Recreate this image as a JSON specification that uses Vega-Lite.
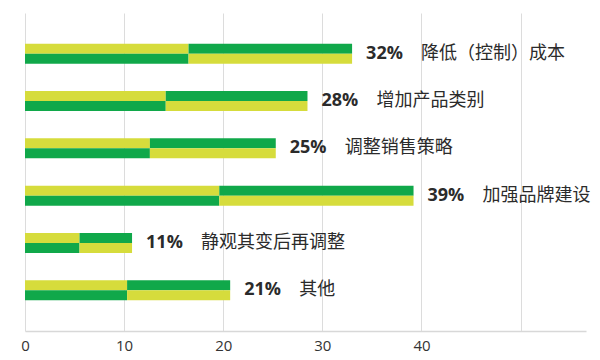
{
  "$schema": "https://vega.github.io/schema/vega-lite/v6.json",
  "width": 561,
  "height": 318,
  "autosize": {"type": "none"},
  "padding": {"left": 25, "top": 13, "right": 14, "bottom": 29},
  "background": "white",
  "config": {"view": {"stroke": null}},
  "datasets": {
    "segments": [
      {"cat": "降低（控制）成本", "half": "top", "start": 0, "end": 16.5, "tone": "yellow"},
      {"cat": "降低（控制）成本", "half": "top", "start": 16.5, "end": 33.0, "tone": "green"},
      {"cat": "降低（控制）成本", "half": "bottom", "start": 0, "end": 16.5, "tone": "green"},
      {"cat": "降低（控制）成本", "half": "bottom", "start": 16.5, "end": 33.0, "tone": "yellow"},
      {"cat": "增加产品类别", "half": "top", "start": 0, "end": 14.2, "tone": "yellow"},
      {"cat": "增加产品类别", "half": "top", "start": 14.2, "end": 28.5, "tone": "green"},
      {"cat": "增加产品类别", "half": "bottom", "start": 0, "end": 14.2, "tone": "green"},
      {"cat": "增加产品类别", "half": "bottom", "start": 14.2, "end": 28.5, "tone": "yellow"},
      {"cat": "调整销售策略", "half": "top", "start": 0, "end": 12.6, "tone": "yellow"},
      {"cat": "调整销售策略", "half": "top", "start": 12.6, "end": 25.3, "tone": "green"},
      {"cat": "调整销售策略", "half": "bottom", "start": 0, "end": 12.6, "tone": "green"},
      {"cat": "调整销售策略", "half": "bottom", "start": 12.6, "end": 25.3, "tone": "yellow"},
      {"cat": "加强品牌建设", "half": "top", "start": 0, "end": 19.6, "tone": "yellow"},
      {"cat": "加强品牌建设", "half": "top", "start": 19.6, "end": 39.2, "tone": "green"},
      {"cat": "加强品牌建设", "half": "bottom", "start": 0, "end": 19.6, "tone": "green"},
      {"cat": "加强品牌建设", "half": "bottom", "start": 19.6, "end": 39.2, "tone": "yellow"},
      {"cat": "静观其变后再调整", "half": "top", "start": 0, "end": 5.5, "tone": "yellow"},
      {"cat": "静观其变后再调整", "half": "top", "start": 5.5, "end": 10.8, "tone": "green"},
      {"cat": "静观其变后再调整", "half": "bottom", "start": 0, "end": 5.5, "tone": "green"},
      {"cat": "静观其变后再调整", "half": "bottom", "start": 5.5, "end": 10.8, "tone": "yellow"},
      {"cat": "其他", "half": "top", "start": 0, "end": 10.3, "tone": "yellow"},
      {"cat": "其他", "half": "top", "start": 10.3, "end": 20.7, "tone": "green"},
      {"cat": "其他", "half": "bottom", "start": 0, "end": 10.3, "tone": "green"},
      {"cat": "其他", "half": "bottom", "start": 10.3, "end": 20.7, "tone": "yellow"}
    ],
    "labels": [
      {"cat": "降低（控制）成本", "total": 33.0, "pct": "32%"},
      {"cat": "增加产品类别", "total": 28.5, "pct": "28%"},
      {"cat": "调整销售策略", "total": 25.3, "pct": "25%"},
      {"cat": "加强品牌建设", "total": 39.2, "pct": "39%"},
      {"cat": "静观其变后再调整", "total": 10.8, "pct": "11%"},
      {"cat": "其他", "total": 20.7, "pct": "21%"}
    ]
  },
  "layer": [
    {
      "data": {"name": "segments"},
      "mark": {"type": "bar", "cornerRadius": 0},
      "encoding": {
        "y": {
          "field": "cat", "type": "nominal", "sort": null,
          "scale": {"paddingInner": 0.577, "paddingOuter": 0.65, "align": 0.5},
          "axis": null
        },
        "yOffset": {
          "field": "half", "type": "nominal", "sort": ["top", "bottom"],
          "scale": {"paddingInner": 0, "paddingOuter": 0}
        },
        "x": {
          "field": "start", "type": "quantitative",
          "scale": {"domain": [0, 56.6], "nice": false, "zero": true},
          "axis": {
            "values": [0, 10, 20, 30, 40, 50],
            "labelExpr": "datum.value == 50 ? '' : datum.label",
            "title": null,
            "ticks": false,
            "grid": true,
            "gridColor": "#dcdcdc",
            "gridWidth": 1,
            "domainColor": "#d8d8d8",
            "domainWidth": 1.5,
            "labelFont": "Open Sans",
            "labelFontSize": 15,
            "labelColor": "#333333",
            "labelPadding": 7,
            "labelFlush": false
          }
        },
        "x2": {"field": "end"},
        "color": {
          "field": "tone", "type": "nominal",
          "scale": {"domain": ["yellow", "green"], "range": ["#d6dc3c", "#10a84a"]},
          "legend": null
        }
      }
    },
    {
      "data": {"name": "labels"},
      "mark": {"type": "text", "align": "left", "baseline": "middle", "dx": 14, "font": "Open Sans", "fontWeight": "bold", "fontSize": 18, "color": "#2b2b2b"},
      "encoding": {
        "y": {"field": "cat", "type": "nominal", "sort": null},
        "x": {"field": "total", "type": "quantitative"},
        "text": {"field": "pct"}
      }
    },
    {
      "data": {"name": "labels"},
      "mark": {"type": "text", "align": "left", "baseline": "middle", "dx": 69, "font": "Noto Sans CJK SC", "fontSize": 18, "color": "#2b2b2b"},
      "encoding": {
        "y": {"field": "cat", "type": "nominal", "sort": null},
        "x": {"field": "total", "type": "quantitative"},
        "text": {"field": "cat"}
      }
    }
  ]
}
